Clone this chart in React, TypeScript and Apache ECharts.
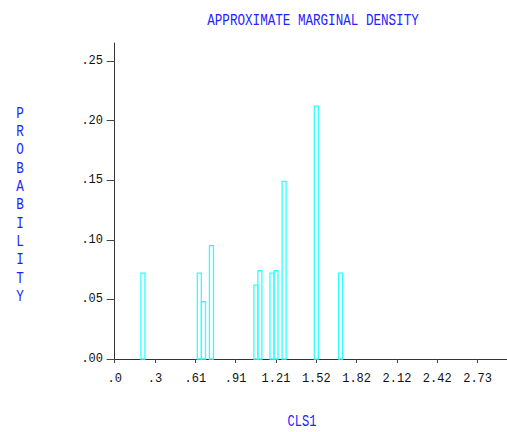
import React, { useEffect, useRef } from "react";
import * as echarts from "echarts";

const binCenters = [0.212, 0.636, 0.667, 0.727, 1.061, 1.091, 1.182, 1.212, 1.273, 1.515, 1.697];
const probabilities = [0.072, 0.072, 0.048, 0.095, 0.062, 0.074, 0.072, 0.074, 0.149, 0.212, 0.072];
const binWidth = 0.0303;
const xTickValues = [0, 0.303, 0.606, 0.909, 1.212, 1.515, 1.818, 2.121, 2.424, 2.727];
const xTickLabels = [".0", ".3", ".61", ".91", "1.21", "1.52", "1.82", "2.12", "2.42", "2.73"];
const yTickValues = [0, 0.05, 0.1, 0.15, 0.2, 0.25];
const yTickLabels = [".00", ".05", ".10", ".15", ".20", ".25"];
const titleText = "APPROXIMATE MARGINAL DENSITY";
const yName = "PROBABILITY";
const xName = "CLS1";

const FONT = "Liberation Mono";
const BLUE = "#2222ff";
const CYAN = "#33ffff";

export default function App() {
  const ref = useRef<HTMLDivElement>(null);
  useEffect(() => {
    if (!ref.current) return;
    const chart = echarts.init(ref.current, null, { renderer: "svg" });
    const data = binCenters.map((c, i) => [c, probabilities[i]]);
    chart.setOption({
      animation: false,
      backgroundColor: "#ffffff",
      grid: { left: 112, right: 0, top: 43, bottom: 73, containLabel: false },
      xAxis: {
        type: "value",
        min: -0.0203,
        max: 2.948,
        splitLine: { show: false },
        axisLine: { show: true, onZero: false, lineStyle: { color: "#333", width: 1 } },
        axisTick: { show: true, length: 4, customValues: xTickValues, lineStyle: { color: "#444" } },
        axisLabel: {
          customValues: xTickValues,
          margin: 14,
          fontFamily: FONT,
          fontSize: 12,
          color: "#111",
          formatter: (v: number) => {
            let best = 0;
            xTickValues.forEach((t, i) => {
              if (Math.abs(t - v) < Math.abs(xTickValues[best] - v)) best = i;
            });
            return xTickLabels[best];
          },
        },
      },
      yAxis: {
        type: "value",
        min: 0,
        max: 0.265,
        splitLine: { show: false },
        axisLine: { show: true, lineStyle: { color: "#333", width: 1 } },
        axisTick: { show: true, length: 8, customValues: yTickValues, lineStyle: { color: "#444" } },
        axisLabel: {
          customValues: yTickValues,
          margin: 9,
          fontFamily: FONT,
          fontSize: 12,
          color: "#111",
          formatter: (v: number) => {
            let best = 0;
            yTickValues.forEach((t, i) => {
              if (Math.abs(t - v) < Math.abs(yTickValues[best] - v)) best = i;
            });
            return yTickLabels[best];
          },
        },
      },
      graphic: [
        {
          type: "text",
          x: 313,
          y: 20,
          scaleY: 1.35,
          originX: 0,
          originY: 0,
          style: {
            text: titleText,
            fontFamily: FONT,
            fontSize: 12.6,
            fill: BLUE,
            align: "center",
            verticalAlign: "middle",
          },
        },
        {
          type: "text",
          x: 20,
          y: 104,
          scaleY: 1.3,
          originX: 0,
          originY: 0,
          style: {
            text: yName.split("").join("\n"),
            fontFamily: FONT,
            fontSize: 12.6,
            lineHeight: 14.1,
            fill: BLUE,
            align: "center",
            verticalAlign: "top",
          },
        },
        {
          type: "text",
          x: 302,
          y: 422,
          scaleY: 1.3,
          originX: 0,
          originY: 0,
          style: {
            text: xName,
            fontFamily: FONT,
            fontSize: 12,
            fill: BLUE,
            align: "center",
            verticalAlign: "middle",
          },
        },
      ],
      series: [
        {
          type: "custom",
          data,
          renderItem: (params: any, api: any) => {
            const c = api.value(0);
            const v = api.value(1);
            const p0 = api.coord([c - binWidth / 2, v]);
            const p1 = api.coord([c + binWidth / 2, 0]);
            return {
              type: "rect",
              shape: { x: p0[0], y: p0[1], width: p1[0] - p0[0], height: p1[1] - p0[1] },
              style: { fill: "none", stroke: CYAN, lineWidth: 1.3 },
            };
          },
        },
      ],
    });
    return () => chart.dispose();
  }, []);
  return <div ref={ref} style={{ width: 507, height: 432, position: "absolute", left: 0, top: 0 }} />;
}
